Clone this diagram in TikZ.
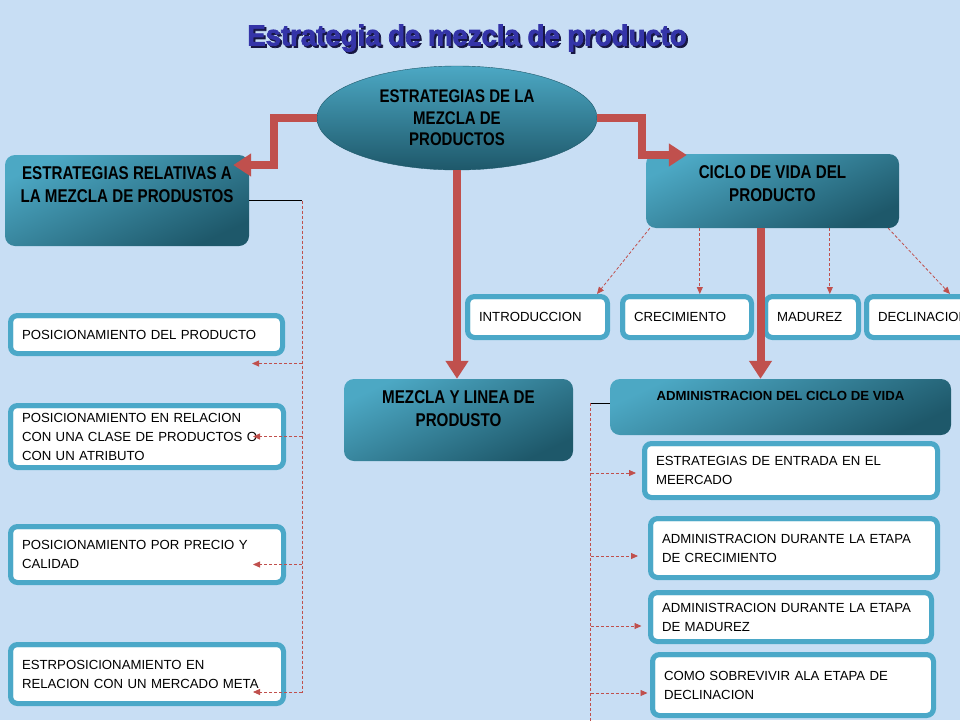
\documentclass[tikz,border=0pt]{standalone}
\usepackage{fontspec}
\setmainfont{Liberation Sans}
\newfontfamily\narrowbf{Liberation Sans}[FakeStretch=0.82]
\newfontfamily\titlefont{Liberation Sans}[FakeStretch=0.95,FakeBold=2.5]
\usetikzlibrary{shapes.geometric,arrows.meta}
\definecolor{bgblue}{RGB}{200,222,244}
\definecolor{tealL}{RGB}{76,168,196}
\definecolor{tealD}{RGB}{30,88,106}
\definecolor{frame}{RGB}{75,168,200}
\definecolor{arrowred}{RGB}{192,80,77}
\definecolor{titleblue}{RGB}{52,52,168}
\definecolor{titleshade}{RGB}{22,22,66}
\newcommand{\paneltext}[3]{\parbox[c][#2][t]{#1}{\centering #3}}

\begin{document}
\begin{tikzpicture}[x=1pt,y=-1pt]
	\tikzstyle{titletext}=[font=\titlefont\bfseries\fontsize{29}{32}\selectfont, text=titleblue, inner sep=0pt]
	\tikzstyle{hub}=[ellipse, minimum width=280pt, minimum height=104pt, inner sep=0pt, align=center,
		top color=tealL, bottom color=tealD, draw=tealD, font=\narrowbf\bfseries\fontsize{18.3}{21.5}\selectfont]
	\tikzstyle{panel}=[rounded corners=10pt, top color=tealL, bottom color=tealD, shading angle=25,
		inner xsep=0pt, inner ysep=12pt, font=\narrowbf\bfseries\fontsize{18.5}{23}\selectfont]
	\tikzstyle{leaf}=[draw=frame, line width=5pt, fill=white, rounded corners=7pt, inner xsep=11.5pt,
		inner ysep=0pt, align=left, font=\fontsize{13.2}{19}\selectfont]
	\tikzstyle{rim}=[draw=frame, line width=1pt, rounded corners=4pt]
	\tikzstyle{bigarrow}=[draw=arrowred, line width=8pt, -{Triangle[length=18pt,width=22pt]}]
	\tikzstyle{dashline}=[draw=arrowred, line width=0.8pt, dash pattern=on 3pt off 2pt]
	\tikzstyle{dashlink}=[dashline, -{Triangle[length=7pt,width=6pt]}]
	\tikzstyle{busline}=[draw=black, line width=0.8pt]
	\useasboundingbox (0,0) rectangle (960,720);
	\clip (0,0) rectangle (960,720);
	\fill[bgblue] (0,0) rectangle (960,720);
	% title
	\node[titletext, text=titleshade] (ttlshade) at (469,40) {Estrategia de mezcla de producto};
	\node[titletext] (ttl) at (467,38) {Estrategia de mezcla de producto};
	% main boxes
	\node[hub] (mix) at (457,118) {ESTRATEGIAS DE LA\\MEZCLA DE\\PRODUCTOS};
	\node[panel] (rel) at (127,200.5) {\paneltext{244pt}{67pt}{ESTRATEGIAS RELATIVAS A\\LA MEZCLA DE PRODUSTOS}};
	\node[panel] (ciclo) at (772.5,191) {\paneltext{253pt}{50pt}{CICLO DE VIDA DEL\\PRODUCTO}};
	\node[panel] (mezcla) at (458.5,420) {\paneltext{229pt}{58pt}{MEZCLA Y LINEA DE\\PRODUSTO}};
	\node[panel, font=\bfseries\fontsize{13.2}{16}\selectfont] (admin) at (780.5,407) {\paneltext{341pt}{32pt}{ADMINISTRACION DEL CICLO DE VIDA}};
	% left column
	\node[leaf, text width=249pt, minimum height=38pt] (pos1) at (146.5,334.5) {POSICIONAMIENTO DEL PRODUCTO};
	\node[leaf, text width=250pt, minimum height=62pt] (pos2) at (147,436.5) {POSICIONAMIENTO EN RELACION\\CON UNA CLASE DE PRODUCTOS O\\CON UN ATRIBUTO};
	\node[leaf, text width=250pt, minimum height=56pt] (pos3) at (147,554.5) {POSICIONAMIENTO POR PRECIO Y\\CALIDAD};
	\node[leaf, text width=250pt, minimum height=59pt] (pos4) at (147,674) {ESTRPOSICIONAMIENTO EN\\RELACION CON UN MERCADO META};
	% stages
	\node[leaf, text width=117pt, minimum height=41pt] (intro) at (537.5,317) {INTRODUCCION};
	\node[leaf, text width=106pt, minimum height=41pt] (crec) at (687,317) {CRECIMIENTO};
	\node[leaf, text width=70pt, minimum height=41pt] (mad) at (812,317) {MADUREZ};
	\node[leaf, text width=118pt, minimum height=41pt] (decl) at (937,317) {DECLINACION};
	% right column
	\node[leaf, text width=270pt, minimum height=54pt] (ent) at (791,470.5) {ESTRATEGIAS DE ENTRADA EN EL\\MEERCADO};
	\node[leaf, text width=264pt, minimum height=59pt] (adcrec) at (794,548) {ADMINISTRACION DURANTE LA ETAPA\\DE CRECIMIENTO};
	\node[leaf, text width=258pt, minimum height=49pt] (admad) at (791,617) {ADMINISTRACION DURANTE LA ETAPA\\DE MADUREZ};
	\node[leaf, text width=258pt, minimum height=61pt] (sobre) at (793,685) {COMO SOBREVIVIR ALA ETAPA DE\\DECLINACION};
	\foreach \n in {pos1,pos2,pos3,pos4,intro,crec,mad,decl,ent,adcrec,admad,sobre}
		\draw[rim] ([shift={(4.5pt,4.5pt)}]\n.south west) rectangle ([shift={(-4.5pt,-4.5pt)}]\n.north east);
	% left bus
	\draw[busline] (rel.east) -- ++(53,0) coordinate (ltop);
	\draw[dashline] (ltop) -- ++(0,492);
	\foreach \n/\dy in {pos1/29,pos2/0,pos3/10,pos4/18}{
		\path ([xshift=-33pt,yshift=-\dy pt]\n.east) coordinate (t);
		\draw[dashlink] (t -| ltop) -- (t);
	}
	% right bus
	\draw[busline] ([yshift=4pt]admin.west) -- ++(-19,0) coordinate (rtop);
	\draw[dashline] (rtop) -- ++(0,320);
	\foreach \n/\dx/\dy in {ent/6/2.5,adcrec/10/8,admad/6.5/9,sobre/2.5/8}{
		\path ([xshift=-\dx pt,yshift=-\dy pt]\n.west) coordinate (t);
		\draw[dashlink] (t -| rtop) -- (t);
	}
	% stages of the cycle
	\draw[dashlink] ([xshift=4pt]ciclo.south west) -- ([xshift=-13pt]intro.north east);
	\coordinate (c2) at ([xshift=54pt]ciclo.south west);
	\draw[dashlink] (c2) -- (c2 |- crec.north);
	\coordinate (c3) at ([xshift=184pt]ciclo.south west);
	\draw[dashlink] (c3) -- (c3 |- mad.north);
	\draw[dashlink] ([xshift=-11pt]ciclo.south east) -- ([xshift=13pt]decl.north);
	% thick arrows
	\coordinate (k1) at (274,165);
	\coordinate (k1t) at ([xshift=-16pt]rel.east);
	\draw[bigarrow] (mix.west) -| (k1) -- (k1t |- k1);
	\coordinate (k2) at (642,155);
	\coordinate (k2t) at ([xshift=41pt]ciclo.west);
	\draw[bigarrow] (mix.east) -| (k2) -- (k2t |- k2);
	\draw[bigarrow] (mix.south) -- (mix.south |- mezcla.north);
	\coordinate (c1) at ([xshift=-12pt]ciclo.south);
	\draw[bigarrow] (c1) -- (c1 |- admin.north);
\end{tikzpicture}
\end{document}
